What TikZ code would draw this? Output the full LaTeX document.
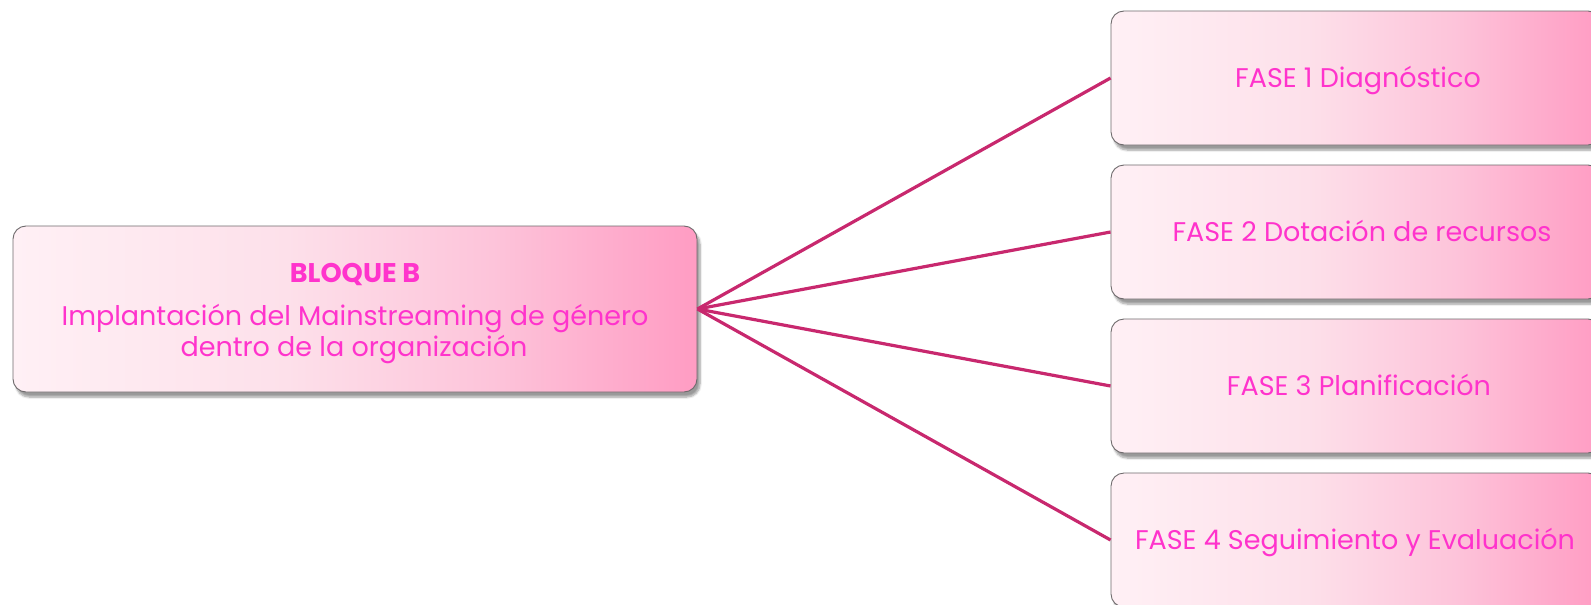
\documentclass[tikz,border=0pt]{standalone}
\usepackage{fontspec}
\setmainfont{Poppins}
\usetikzlibrary{shadows.blur}
\definecolor{txtpink}{HTML}{FF33CC}
\definecolor{linepink}{HTML}{C8286E}
\definecolor{edgegray}{HTML}{6E6A6C}
\definecolor{gA}{HTML}{FFF0F5}
\definecolor{gB}{HTML}{FDE0EA}
\definecolor{gC}{HTML}{FDC4DA}
\definecolor{gD}{HTML}{FF9CC3}
\pgfdeclarehorizontalshading{pinkgrad}{100bp}{color(0bp)=(gA); color(25bp)=(gA); color(45bp)=(gB); color(60bp)=(gC); color(75bp)=(gD); color(100bp)=(gD)}
\tikzset{
  box/.style={draw=edgegray, line width=0.9pt, rounded corners=13pt, shading=pinkgrad, shading angle=0,
    blur shadow={shadow xshift=3pt, shadow yshift=-5pt, shadow blur steps=6, shadow blur extra rounding=2pt, shadow opacity=40}},
  bigbox/.style={box, minimum width=684pt, minimum height=166pt, inner sep=0pt},
  phasebox/.style={box, minimum width=490pt, minimum height=134pt, inner sep=0pt},
  label/.style={text=txtpink, font=\fontsize{27}{31}\selectfont, inner sep=0pt},
  conn/.style={draw=linepink, line width=3.2pt}
}
\begin{document}
\begin{tikzpicture}[x=1pt, y=-1pt]
\useasboundingbox (0,0) rectangle (1591,605);
\node[bigbox] (B) at (355,309) {};
\node[phasebox] (F1) at (1356,78) {};
\node[phasebox] (F2) at (1356,232) {};
\node[phasebox] (F3) at (1356,386) {};
\node[phasebox] (F4) at (1356,540) {};
\node[label, anchor=base, font=\fontsize{27}{31}\bfseries\selectfont] (t0) at (355,282) {BLOQUE B};
\node[label, anchor=base] (t1) at (355,325) {Implantación del Mainstreaming de género};
\node[label, anchor=base] (t2) at (354,356) {dentro de la organización};
\node[label, anchor=base] (l1) at (1358,87) {FASE 1 Diagnóstico};
\node[label, anchor=base] (l2) at (1362,241) {FASE 2 Dotación de recursos};
\node[label, anchor=base] (l3) at (1359,395) {FASE 3 Planificación};
\node[label, anchor=base] (l4) at (1355,549) {FASE 4 Seguimiento y Evaluación};
\foreach \f in {F1,F2,F3,F4}{
  \draw[conn] (B.east) -- (\f.west);
}
\end{tikzpicture}
\end{document}
